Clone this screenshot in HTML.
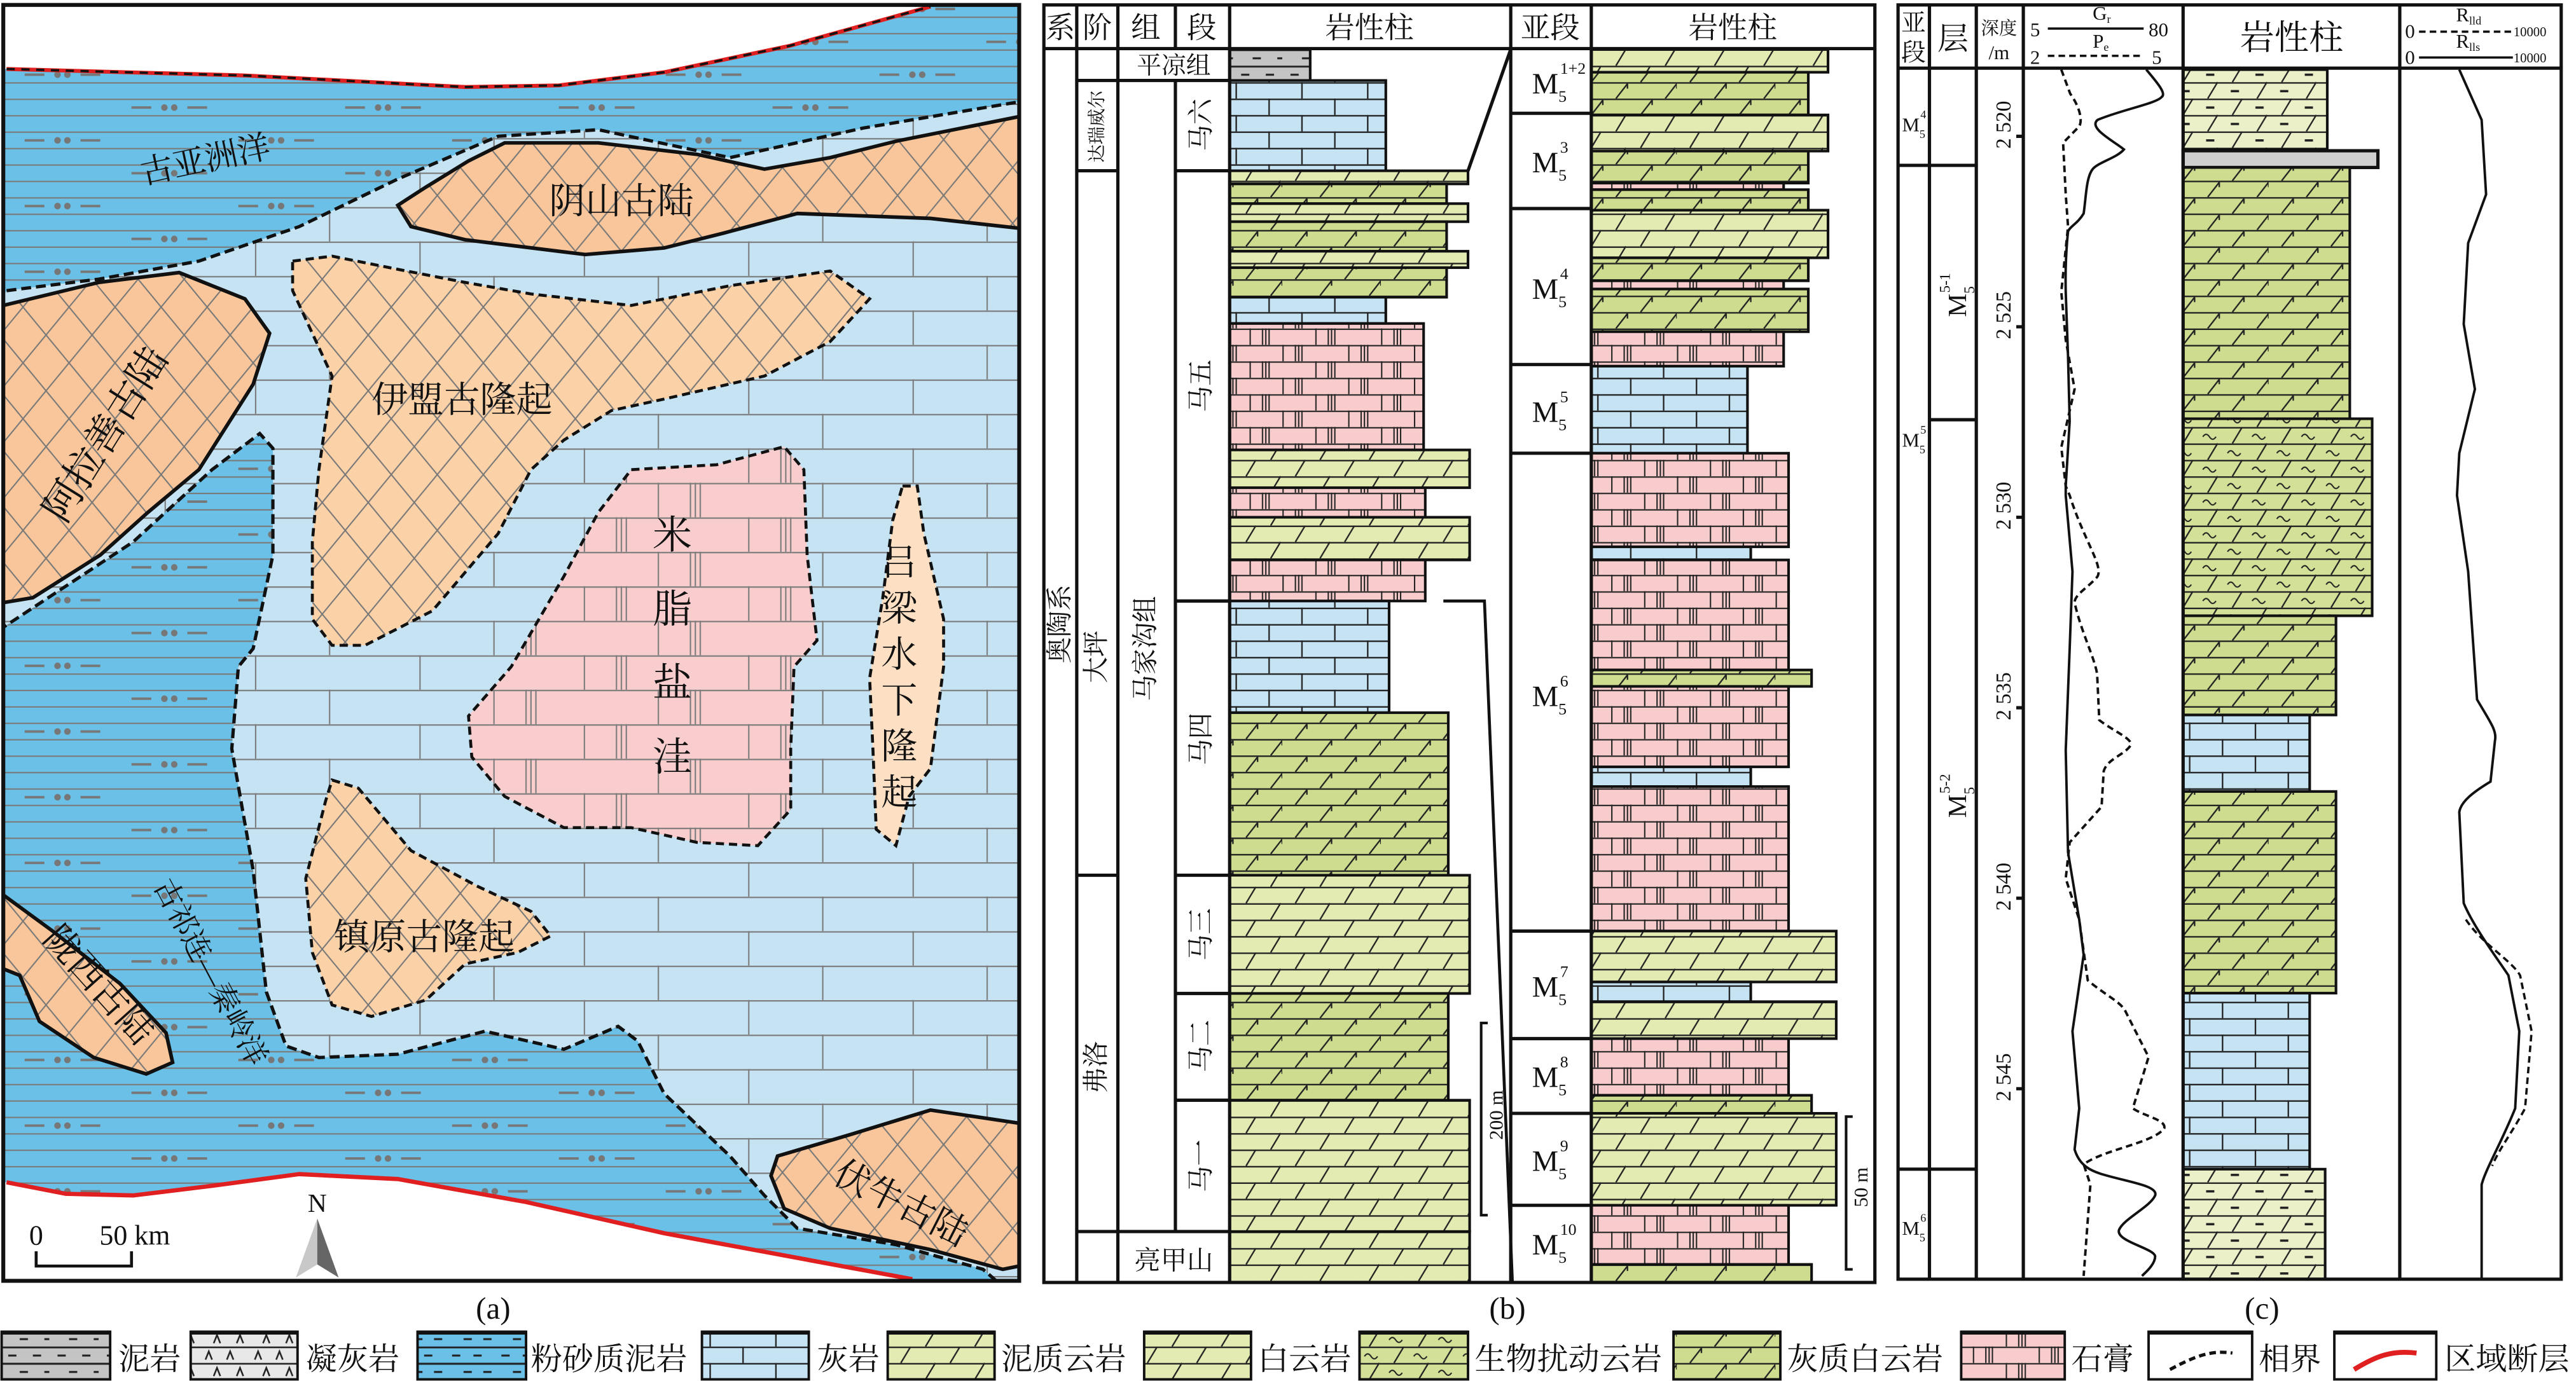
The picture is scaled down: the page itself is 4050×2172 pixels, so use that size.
<!DOCTYPE html>
<html><head><meta charset="utf-8"><style>
html,body{margin:0;padding:0;background:#fff}
svg{display:block}
text{font-family:"Liberation Serif","Noto Serif CJK SC",serif;fill:#111}
</style></head><body>
<svg xmlns="http://www.w3.org/2000/svg" width="4050" height="2172" viewBox="0 0 1567 841" preserveAspectRatio="none">
<defs>
<pattern id="mapdeep" width="130" height="40" patternUnits="userSpaceOnUse">
<rect width="130" height="40" fill="#6ac0e6"/>
<path d="M0,0.5H130M0,10.5H130M0,20.5H130M0,30.5H130" stroke="#7a7a7a" stroke-width="0.8"/>
<path d="M15,5.5H27M49,5.5H61M80,25.5H92M114,25.5H126" stroke="#777" stroke-width="1.5"/>
<circle cx="35" cy="5.5" r="2" fill="#777"/><circle cx="41" cy="5.5" r="2" fill="#777"/>
<circle cx="100" cy="25.5" r="2" fill="#777"/><circle cx="106" cy="25.5" r="2" fill="#777"/>
</pattern>
<pattern id="maplight" width="100" height="42" patternUnits="userSpaceOnUse">
<rect width="100" height="42" fill="#c5e3f3"/>
<path d="M0,0.5H100M0,21.5H100M0.5,0V21M55.5,21V42" stroke="#7a7a7a" stroke-width="0.8"/>
</pattern>
<pattern id="mappink" width="100" height="42" patternUnits="userSpaceOnUse">
<rect width="100" height="42" fill="#f9cdcd"/>
<path d="M0,0.5H100M0,21.5H100M0.5,0V21M55.5,21V42M20,0V21M23,0V21M26,0V21M75,21V42M78,21V42M81,21V42" stroke="#7a7a7a" stroke-width="0.8"/>
</pattern>
<pattern id="mapcross" width="28" height="34" patternUnits="userSpaceOnUse">
<rect width="28" height="34" fill="#f8c69a"/>
<path d="M0,0L28,34M28,0L0,34" stroke="#777" stroke-width="0.8"/>
</pattern>
<pattern id="mapcross2" width="28" height="34" patternUnits="userSpaceOnUse">
<rect width="28" height="34" fill="#fbd1a8"/>
<path d="M0,0L28,34M28,0L0,34" stroke="#777" stroke-width="0.8"/>
</pattern>
<pattern id="lime" width="40" height="20" patternUnits="userSpaceOnUse">
<rect width="40" height="20" fill="#c5e3f3"/>
<path d="M0,0.5H40M0,10.5H40M12,0V10M32,10V20" stroke="#222" stroke-width="0.9"/>
</pattern>
<pattern id="dolo" width="60" height="20" patternUnits="userSpaceOnUse">
<rect width="60" height="20" fill="#e3ebb2"/>
<path d="M0,0.5H60M0,10.5H60M8,10L14,0M38,10L44,0M23,20L29,10M53,20L59,10" stroke="#222" stroke-width="0.9"/>
</pattern>
<pattern id="cdolo" width="60" height="20" patternUnits="userSpaceOnUse">
<rect width="60" height="20" fill="#cddc8e"/>
<path d="M0,0.5H60M0,10.5H60M8,10L15,1M15,1V4M38,10L45,1M45,1V4M23,20L30,11M30,11V14M53,20L60,11M60,11V14" stroke="#222" stroke-width="0.9"/>
</pattern>
<pattern id="bio" width="60" height="20" patternUnits="userSpaceOnUse">
<rect width="60" height="20" fill="#d3e097"/>
<path d="M0,0.5H60M0,10.5H60M8,10L14,0M38,10L44,0M23,20L29,10M53,20L59,10" stroke="#222" stroke-width="0.9"/>
<path d="M20,6q2,-3 4,0t4,0M50,6q2,-3 4,0t4,0M5,16q2,-3 4,0t4,0M35,16q2,-3 4,0t4,0" stroke="#222" stroke-width="0.8" fill="none"/>
</pattern>
<pattern id="mdolo" width="60" height="20" patternUnits="userSpaceOnUse">
<rect width="60" height="20" fill="#ebf0c9"/>
<path d="M0,0.5H60M0,10.5H60M8,10L14,0M38,10L44,0M23,20L29,10M53,20L59,10" stroke="#222" stroke-width="0.9"/>
<path d="M22,5.5H27M52,5.5H57M7,15.5H12M37,15.5H42" stroke="#222" stroke-width="1.4"/>
</pattern>
<pattern id="gyp" width="40" height="20" patternUnits="userSpaceOnUse">
<rect width="40" height="20" fill="#f8cccc"/>
<path d="M0,0.5H40M0,10.5H40M0.5,0V10M20.5,10V20M8,0V10M10,0V10M12,0V10M28,10V20M30,10V20M32,10V20" stroke="#222" stroke-width="0.8"/>
</pattern>
<pattern id="mud" width="30" height="20" patternUnits="userSpaceOnUse">
<rect width="30" height="20" fill="#c4c4c4"/>
<path d="M0,0.5H30M0,10.5H30M5,5.5H10M20,5.5H25M12,15.5H17M27,15.5H30" stroke="#222" stroke-width="1.2"/>
</pattern>
<pattern id="tuff" width="30" height="20" patternUnits="userSpaceOnUse">
<rect width="30" height="20" fill="#e8e8e8"/>
<path d="M0,0.5H30M0,10.5H30M5,8L7,3L9,8M18,8L20,3L22,8M10,18L12,13L14,18M24,18L26,13L28,18" stroke="#222" stroke-width="1" fill="none"/>
</pattern>
<pattern id="sdeep" width="30" height="20" patternUnits="userSpaceOnUse">
<rect width="30" height="20" fill="#6ac0e6"/>
<path d="M0,0.5H30M0,10.5H30M5,5.5H10M18,5.5H23M12,15.5H17M24,15.5H29" stroke="#222" stroke-width="1.2"/>
</pattern>
</defs>

<!-- ===================== MAP (a) ===================== -->
<g>
<rect x="2" y="3" width="618" height="777" fill="url(#mapdeep)"/>
<path d="M2,180 L4,177 L60,170 L121,159 L182,138 L242,109 L303,83 L364,79 L444,96 L525,78 L620,62 L620,780 L606,780 L598,773 L545,758 L485,748 L465,728 L444,704 L404,666 L388,634 L376,625 L343,639 L295,628 L242,642 L194,644 L174,637 L162,604 L154,530 L141,456 L145,406 L154,395 L166,338 L166,273 L158,264 L129,286 L81,330 L2,382 Z" fill="url(#maplight)"/>
<path d="M4,177 L60,170 L121,159 L182,138 L242,109 L303,83 L364,79 L444,96 L525,78 L620,62" fill="none" stroke="#111" stroke-width="2" stroke-dasharray="6,3"/>
<path d="M606,780 L598,773 L545,758 L485,748 L465,728 L444,704 L404,666 L388,634 L376,625 L343,639 L295,628 L242,642 L194,644 L174,637 L162,604 L154,530 L141,456 L145,406 L154,395 L166,338 L166,273 L158,264 L129,286 L81,330 L2,382" fill="none" stroke="#111" stroke-width="2" stroke-dasharray="6,3"/>
<!-- white top -->
<path d="M2,3 L620,3 L620,4 L566,4 L480,28 L404,44 L340,52 L283,53 L150,46 L4,42 L2,42 Z" fill="#fff"/>
<path d="M4,42 L150,46 L283,53 L340,52 L404,44 L480,28 L566,4" fill="none" stroke="#e02020" stroke-width="2.4"/>
<path d="M4,42 L150,46 L283,53 L340,52 L404,44 L480,28 L566,4" fill="none" stroke="#111" stroke-width="1.4" stroke-dasharray="5,4"/>
<!-- white bottom -->
<path d="M2,720 L4,720 L40,727 L81,728 L130,722 L182,715 L242,718 L320,732 L404,751 L555,779 L555,780 L2,780 Z" fill="#fff"/>
<path d="M4,720 L40,727 L81,728 L130,722 L182,715 L242,718 L320,732 L404,751 L555,779" fill="none" stroke="#e02020" stroke-width="2.6"/>
<!-- 阴山 -->
<path d="M242,125 L259,114 L285,98 L307,87 L364,87 L424,94 L465,103 L505,96 L545,86 L620,71 L620,139 L566,133 L485,130 L440,142 L404,151 L356,155 L283,146 L250,138 Z" fill="url(#mapcross)" stroke="#111" stroke-width="2.2"/>
<!-- 阿拉善 -->
<path d="M2,186 L60,172 L109,166 L149,182 L164,203 L154,234 L121,286 L90,312 L61,338 L20,364 L2,367 Z" fill="url(#mapcross)" stroke="#111" stroke-width="2.2"/>
<!-- 伊盟 -->
<path d="M178,159 L202,156 L242,164 L283,172 L323,179 L384,186 L444,174 L505,165 L529,182 L505,208 L465,229 L404,243 L372,250 L343,268 L323,286 L303,325 L263,372 L222,393 L202,393 L190,377 L190,330 L194,286 L202,229 L178,177 Z" fill="url(#mapcross2)" stroke="#111" stroke-width="1.8" stroke-dasharray="5,3"/>
<!-- 镇原 -->
<path d="M202,475 L218,480 L250,518 L291,540 L323,555 L335,570 L315,580 L283,587 L259,609 L226,619 L202,612 L190,580 L186,535 L198,488 Z" fill="url(#mapcross2)" stroke="#111" stroke-width="1.8" stroke-dasharray="5,3"/>
<!-- 米脂 -->
<path d="M384,286 L436,283 L477,272 L489,286 L491,338 L497,390 L483,406 L481,456 L481,493 L461,515 L424,513 L384,504 L343,504 L307,485 L287,461 L285,436 L311,406 L343,351 L364,312 Z" fill="url(#mappink)" stroke="#111" stroke-width="1.8" stroke-dasharray="5,3"/>
<!-- 吕梁 -->
<path d="M549,296 L558,296 L562,325 L574,377 L574,406 L566,468 L553,485 L545,515 L533,505 L531,456 L529,413 L537,364 L543,317 Z" fill="#fde0c3" stroke="#111" stroke-width="1.8" stroke-dasharray="5,3"/>
<!-- 陇西 -->
<path d="M2,545 L32,567 L73,599 L101,629 L105,647 L89,654 L57,644 L24,622 L12,594 L2,590 Z" fill="url(#mapcross)" stroke="#111" stroke-width="2.2"/>
<!-- 伏牛 -->
<path d="M473,704 L517,691 L566,676 L620,684 L620,771 L610,773 L566,761 L505,748 L477,736 L469,716 Z" fill="url(#mapcross)" stroke="#111" stroke-width="2.2"/>
<rect x="2" y="3" width="618" height="777" fill="none" stroke="#111" stroke-width="2.4"/>
<!-- labels -->
<text x="125" y="104" font-size="20" text-anchor="middle" transform="rotate(-12 125 98)">古亚洲洋</text>
<text x="378" y="130" font-size="22" text-anchor="middle">阴山古陆</text>
<text x="65" y="272" font-size="24" text-anchor="middle" transform="rotate(-58 65 265)">阿拉善古陆</text>
<text x="281" y="251" font-size="22" text-anchor="middle">伊盟古隆起</text>
<g font-size="24" text-anchor="middle"><text x="409" y="334">米</text><text x="409" y="379">脂</text><text x="409" y="424">盐</text><text x="409" y="469">洼</text></g>
<g font-size="22" text-anchor="middle"><text x="547" y="350">吕</text><text x="547" y="378">梁</text><text x="547" y="406">水</text><text x="547" y="434">下</text><text x="547" y="462">隆</text><text x="547" y="490">起</text></g>
<text x="258" y="578" font-size="22" text-anchor="middle">镇原古隆起</text>
<text x="60" y="607" font-size="22" text-anchor="middle" transform="rotate(48 60 600)">陇西古陆</text>
<text x="128" y="598" font-size="18" text-anchor="middle" transform="rotate(62 128 592)">古祁连—秦岭洋</text>
<text x="548" y="740" font-size="22" text-anchor="middle" transform="rotate(27 548 733)">伏牛古陆</text>
<text x="22" y="758" font-size="17" text-anchor="middle">0</text>
<text x="82" y="758" font-size="17" text-anchor="middle">50 km</text>
<path d="M22,762V771H80V762" fill="none" stroke="#111" stroke-width="1.8"/>
<text x="193" y="738" font-size="16" text-anchor="middle">N</text>
<path d="M193,742 L180,778 L193,770 Z" fill="#c8c8c8"/>
<path d="M193,742 L206,778 L193,770 Z" fill="#666"/>
<text x="300" y="803" font-size="19" text-anchor="middle">(a)</text>
</g>

<!-- ===================== (b) ===================== -->
<g>
<!-- left lithology -->
<g stroke="#111" stroke-width="1.6">
<rect x="748" y="30" width="49" height="19" fill="url(#mud)"/>
<rect x="748" y="49" width="95" height="55" fill="url(#lime)"/>
<rect x="748" y="104" width="145" height="8" fill="url(#dolo)"/>
<rect x="748" y="112" width="132" height="12" fill="url(#cdolo)"/>
<rect x="748" y="124" width="145" height="11" fill="url(#dolo)"/>
<rect x="748" y="135" width="132" height="18" fill="url(#cdolo)"/>
<rect x="748" y="153" width="145" height="10" fill="url(#dolo)"/>
<rect x="748" y="163" width="132" height="18" fill="url(#cdolo)"/>
<rect x="748" y="181" width="95" height="16" fill="url(#lime)"/>
<rect x="748" y="197" width="118" height="77" fill="url(#gyp)"/>
<rect x="748" y="274" width="146" height="23" fill="url(#dolo)"/>
<rect x="748" y="297" width="119" height="18" fill="url(#gyp)"/>
<rect x="748" y="315" width="146" height="26" fill="url(#dolo)"/>
<rect x="748" y="341" width="119" height="25" fill="url(#gyp)"/>
<rect x="748" y="366" width="97" height="68" fill="url(#lime)"/>
<rect x="748" y="434" width="133" height="99" fill="url(#cdolo)"/>
<rect x="748" y="533" width="146" height="72" fill="url(#dolo)"/>
<rect x="748" y="605" width="133" height="65" fill="url(#cdolo)"/>
<rect x="748" y="670" width="146" height="80" fill="url(#dolo)"/>
<rect x="748" y="750" width="146" height="31" fill="url(#dolo)"/>
</g>
<!-- right lithology -->
<g stroke="#111" stroke-width="1.6">
<rect x="968" y="30" width="144" height="14" fill="url(#dolo)"/>
<rect x="968" y="44" width="132" height="26" fill="url(#cdolo)"/>
<rect x="968" y="70" width="144" height="22" fill="url(#dolo)"/>
<rect x="968" y="92" width="132" height="19.5" fill="url(#cdolo)"/>
<rect x="968" y="111.5" width="117" height="4" fill="url(#gyp)"/>
<rect x="968" y="115.5" width="132" height="12.5" fill="url(#cdolo)"/>
<rect x="968" y="128" width="144" height="29" fill="url(#dolo)"/>
<rect x="968" y="157" width="132" height="14" fill="url(#cdolo)"/>
<rect x="968" y="171" width="117" height="5" fill="url(#gyp)"/>
<rect x="968" y="176" width="132" height="26" fill="url(#cdolo)"/>
<rect x="968" y="202" width="117" height="21" fill="url(#gyp)"/>
<rect x="968" y="223" width="95" height="53" fill="url(#lime)"/>
<rect x="968" y="276" width="120" height="57" fill="url(#gyp)"/>
<rect x="968" y="333" width="97" height="8" fill="url(#lime)"/>
<rect x="968" y="341" width="120" height="67" fill="url(#gyp)"/>
<rect x="968" y="408" width="134" height="10" fill="url(#cdolo)"/>
<rect x="968" y="418" width="120" height="49" fill="url(#gyp)"/>
<rect x="968" y="467" width="97" height="12" fill="url(#lime)"/>
<rect x="968" y="479" width="120" height="88" fill="url(#gyp)"/>
<rect x="968" y="567" width="149" height="31" fill="url(#dolo)"/>
<rect x="968" y="598" width="97" height="12" fill="url(#lime)"/>
<rect x="968" y="610" width="149" height="22.5" fill="url(#dolo)"/>
<rect x="968" y="632.5" width="120" height="34.5" fill="url(#gyp)"/>
<rect x="968" y="667" width="134" height="11" fill="url(#cdolo)"/>
<rect x="968" y="678" width="149" height="56" fill="url(#dolo)"/>
<rect x="968" y="734" width="120" height="36" fill="url(#gyp)"/>
<rect x="968" y="770" width="134" height="11" fill="url(#cdolo)"/>
</g>
<!-- grid -->
<g stroke="#111" stroke-width="2" fill="none">
<rect x="635" y="3" width="505.5" height="778"/>
<path d="M635,29.6H1140.5"/>
<path d="M655,3V781M680,3V781M748,3V781M919,3V781M968,3V781"/>
<path d="M715,3V29.6M715,49V750"/>
<path d="M655,49H748M655,104H680M655,533H680M655,750H748"/>
<path d="M715,104H748M715,366H748M715,533H748M715,605H748M715,670H748"/>
<path d="M919,69H968M919,127H968M919,222H968M919,276H968M919,567H968M919,632.5H968M919,678H968M919,734H968"/>
</g>
<path d="M893,104L919,30" stroke="#111" stroke-width="2" fill="none"/>
<path d="M878,366H903L920,781" stroke="#111" stroke-width="1.8" fill="none"/>
<path d="M905,623H901V740H905" stroke="#111" stroke-width="1.6" fill="none"/>
<text x="913" y="686" font-size="12" text-anchor="middle" transform="rotate(-90 910 682)">200 m</text>
<path d="M1127,680H1123V773H1127" stroke="#111" stroke-width="1.6" fill="none"/>
<text x="1135" y="730" font-size="12" text-anchor="middle" transform="rotate(-90 1132 726)">50 m</text>
<!-- header texts -->
<g font-size="18" text-anchor="middle">
<text x="645" y="23">系</text><text x="667.5" y="23">阶</text><text x="697" y="23">组</text><text x="731" y="23">段</text>
<text x="833" y="23">岩性柱</text><text x="943" y="23">亚段</text><text x="1054" y="23">岩性柱</text>
</g>
<text x="714" y="45" font-size="15" text-anchor="middle">平凉组</text>
<text x="714" y="773" font-size="16" text-anchor="middle">亮甲山</text>
<g font-size="16" text-anchor="middle">
<text x="667" y="81" font-size="11" transform="rotate(-90 667 77)">达瑞威尔</text>
<text x="731" y="81" transform="rotate(-90 731 76)">马六</text>
<text x="731" y="240" transform="rotate(-90 731 235)">马五</text>
<text x="731" y="455" transform="rotate(-90 731 450)">马四</text>
<text x="731" y="574" transform="rotate(-90 731 569)">马三</text>
<text x="731" y="642" transform="rotate(-90 731 637)">马二</text>
<text x="731" y="715" transform="rotate(-90 731 710)">马一</text>
<text x="667" y="405" transform="rotate(-90 667 400)">大坪</text>
<text x="667" y="655" transform="rotate(-90 667 650)">弗洛</text>
<text x="697" y="400" transform="rotate(-90 697 395)">马家沟组</text>
<text x="645" y="385" transform="rotate(-90 645 380)">奥陶系</text>
</g>
<g font-size="18">
<text x="932" y="57">M<tspan dy="5" font-size="10">5</tspan><tspan dx="-4" dy="-17" font-size="10">1+2</tspan></text>
<text x="932" y="105">M<tspan dy="5" font-size="10">5</tspan><tspan dx="-4" dy="-17" font-size="10">3</tspan></text>
<text x="932" y="182">M<tspan dy="5" font-size="10">5</tspan><tspan dx="-4" dy="-17" font-size="10">4</tspan></text>
<text x="932" y="257">M<tspan dy="5" font-size="10">5</tspan><tspan dx="-4" dy="-17" font-size="10">5</tspan></text>
<text x="932" y="430">M<tspan dy="5" font-size="10">5</tspan><tspan dx="-4" dy="-17" font-size="10">6</tspan></text>
<text x="932" y="607">M<tspan dy="5" font-size="10">5</tspan><tspan dx="-4" dy="-17" font-size="10">7</tspan></text>
<text x="932" y="662">M<tspan dy="5" font-size="10">5</tspan><tspan dx="-4" dy="-17" font-size="10">8</tspan></text>
<text x="932" y="713">M<tspan dy="5" font-size="10">5</tspan><tspan dx="-4" dy="-17" font-size="10">9</tspan></text>
<text x="932" y="764">M<tspan dy="5" font-size="10">5</tspan><tspan dx="-4" dy="-17" font-size="10">10</tspan></text>
</g>
<text x="917" y="803" font-size="19" text-anchor="middle">(b)</text>
</g>

<!-- ===================== (c) ===================== -->
<g>
<g stroke="#111" stroke-width="1.6">
<rect x="1328" y="42.4" width="87.7" height="48.4" fill="url(#mdolo)"/>
<rect x="1328" y="91.8" width="118.5" height="10.2" fill="#cfcfcf" stroke-width="2"/>
<rect x="1328" y="102" width="101.4" height="153" fill="url(#cdolo)"/>
<rect x="1328" y="255" width="115" height="120" fill="url(#bio)"/>
<rect x="1328" y="375" width="93" height="60.4" fill="url(#cdolo)"/>
<rect x="1328" y="435.4" width="77" height="46.6" fill="url(#lime)"/>
<rect x="1328" y="482" width="93" height="122.8" fill="url(#cdolo)"/>
<rect x="1328" y="604.8" width="77" height="107.2" fill="url(#lime)"/>
<rect x="1328" y="712" width="86.4" height="67" fill="url(#mdolo)"/>
</g>
<g stroke="#111" stroke-width="2" fill="none">
<rect x="1154.6" y="3" width="403.4" height="776"/>
<path d="M1154.6,41.5H1558"/>
<path d="M1173.7,3V779M1202.2,3V779M1230.8,3V779M1328,3V779M1459.8,3V779"/>
<path d="M1154.6,100.7H1202.2M1173.7,255.6H1202.2M1154.6,712H1202.2"/>
<path d="M1226.5,83H1230.8M1226.5,199H1230.8M1226.5,315H1230.8M1226.5,431H1230.8M1226.5,547H1230.8M1226.5,663H1230.8"/>
</g>
<!-- curves -->
<path d="M1305.6,42.4 C1312,50 1318,57 1315,59 C1312,63 1290,67 1276,73 C1270,78 1286,86 1292,91 C1288,96 1276,99 1273,103 C1269,108 1269,120 1267.5,130 C1264,136 1259,138 1258,141 C1256,160 1256.6,177 1256.6,178 L1258,217 L1259,256.6 L1256.6,296 L1256.6,301.7 L1260.7,348 L1259,395 L1256.6,457 L1258,519 L1264.8,560 L1267.5,581.5 L1260.7,628 L1264.8,675 L1262,700 C1265,710 1272,713 1278.4,715 C1295,720 1313,722 1311,728 C1308,735 1292,742 1289,749 C1287,756 1310,760 1311,765 C1311,770 1305,775 1303,777" fill="none" stroke="#111" stroke-width="1.5"/>
<path d="M1253.9,42.4 L1259.3,57 C1265,65 1267,73 1264.8,77 L1255,87 L1256.6,118.4 L1258,138 L1253.9,177.7 L1256.6,207 L1262,237 L1253.9,272.4 L1256.6,296 L1259,301.7 C1268,330 1280,345 1275.7,351.4 C1270,358 1262,362 1262,367 C1266,385 1274,400 1275.7,410.5 L1277,438.5 C1285,445 1298,450 1296,454 C1292,460 1282,462 1279.7,469.6 L1278.4,491.3 L1259,513 L1256.6,535 L1264.8,560 L1270,597 C1282,607 1290,610 1293,616 L1307,643.7 L1297.4,675 C1305,680 1318,682 1316.5,687.2 C1310,696 1280,700 1267.5,709 L1271.6,721.4 L1267.5,777" fill="none" stroke="#111" stroke-width="1.5" stroke-dasharray="4,2.5"/>
<path d="M1496,42.4 L1509.6,73 L1512.3,118.4 L1501.4,148 L1498.7,197.4 L1505.5,237 L1496,276 L1494.6,301.7 L1501.4,348 L1506.8,426 C1515,440 1519,445 1517.7,451 L1515,476 C1505,482 1497,488 1496,494.5 L1498.7,550 C1505,565 1520,585 1525.9,594 L1532.5,628 L1530,675 C1522,695 1512,712 1509.6,721.4 L1509.6,779" fill="none" stroke="#111" stroke-width="1.5"/>
<path d="M1500,560 C1510,575 1528,585 1533,594 L1540,628 L1536,675 C1528,690 1520,700 1516,710" fill="none" stroke="#111" stroke-width="1.4" stroke-dasharray="4,2.5"/>
<!-- header -->
<g text-anchor="middle">
<text x="1164" y="19" font-size="15">亚</text><text x="1164" y="37" font-size="15">段</text>
<text x="1188" y="30" font-size="19">层</text>
<text x="1216" y="21" font-size="11">深度</text><text x="1216" y="36" font-size="12">/m</text>
<text x="1394" y="30" font-size="21">岩性柱</text>
</g>
<g font-size="12">
<text x="1235" y="22">5</text><text x="1307" y="22">80</text>
<text x="1273" y="12">G<tspan font-size="7" dy="2">r</tspan></text>
<text x="1235" y="39">2</text><text x="1309" y="39">5</text>
<text x="1273" y="29">P<tspan font-size="7" dy="2">e</tspan></text>
<text x="1463" y="23">0</text><text x="1529" y="22" font-size="8">10000</text>
<text x="1494" y="13">R<tspan font-size="7" dy="2">lld</tspan></text>
<text x="1463" y="39">0</text><text x="1529" y="38" font-size="8">10000</text>
<text x="1494" y="29">R<tspan font-size="7" dy="2">lls</tspan></text>
</g>
<path d="M1245.7,17.4H1304" stroke="#111" stroke-width="1.4"/>
<path d="M1245.7,34H1304" stroke="#111" stroke-width="1.4" stroke-dasharray="4,2.5"/>
<path d="M1471.5,19.3H1528.6" stroke="#111" stroke-width="1.4" stroke-dasharray="4,2.5"/>
<path d="M1471.5,35H1528.6" stroke="#111" stroke-width="1.4"/>
<g font-size="13" text-anchor="middle">
<text x="1218" y="81" transform="rotate(-90 1218 76)">2 520</text>
<text x="1218" y="197" transform="rotate(-90 1218 192)">2 525</text>
<text x="1218" y="313" transform="rotate(-90 1218 308)">2 530</text>
<text x="1218" y="429" transform="rotate(-90 1218 424)">2 535</text>
<text x="1218" y="545" transform="rotate(-90 1218 540)">2 540</text>
<text x="1218" y="661" transform="rotate(-90 1218 656)">2 545</text>
</g>
<g font-size="12">
<text x="1157" y="80">M<tspan dy="4" font-size="7">5</tspan><tspan dx="-3" dy="-12" font-size="7">4</tspan></text>
<text x="1157" y="272">M<tspan dy="4" font-size="7">5</tspan><tspan dx="-3" dy="-12" font-size="7">5</tspan></text>
<text x="1157" y="752">M<tspan dy="4" font-size="7">5</tspan><tspan dx="-3" dy="-12" font-size="7">6</tspan></text>
</g>
<g font-size="16">
<text x="1180" y="193" transform="rotate(-90 1188 185)">M<tspan dy="5" font-size="9">5</tspan><tspan dx="-4" dy="-15" font-size="9">5-1</tspan></text>
<text x="1180" y="498" transform="rotate(-90 1188 490)">M<tspan dy="5" font-size="9">5</tspan><tspan dx="-4" dy="-15" font-size="9">5-2</tspan></text>
</g>
<text x="1376" y="803" font-size="19" text-anchor="middle">(c)</text>
</g>

<!-- ===================== Legend ===================== -->
<g>
<g stroke="#111" stroke-width="1.5">
<rect x="1" y="811" width="66" height="29" fill="url(#mud)"/>
<rect x="116" y="811" width="65" height="29" fill="url(#tuff)"/>
<rect x="254" y="811" width="66" height="29" fill="url(#sdeep)"/>
<rect x="427" y="811" width="65" height="29" fill="url(#lime)"/>
<rect x="540" y="811" width="65" height="29" fill="url(#dolo)"/>
<rect x="696" y="811" width="65" height="29" fill="url(#dolo)"/>
<rect x="827" y="811" width="66" height="29" fill="url(#bio)"/>
<rect x="1018" y="811" width="65" height="29" fill="url(#cdolo)"/>
<rect x="1193" y="811" width="63" height="29" fill="url(#gyp)"/>
<rect x="1307" y="811" width="63" height="29" fill="#fff"/>
<rect x="1420" y="811" width="62" height="29" fill="#fff"/>
</g>
<g stroke="#111" stroke-width="2.5">
<path d="M1,811.5H67M116,811.5H181M254,811.5H320M427,811.5H492M540,811.5H605M696,811.5H761M827,811.5H893M1018,811.5H1083M1193,811.5H1256M1307,811.5H1370M1420,811.5H1482"/>
</g>
<path d="M1320,834 C1335,826 1345,822 1358,824" stroke="#111" stroke-width="2" stroke-dasharray="4,2.5" fill="none"/>
<path d="M1432,834 C1445,826 1455,822 1470,824" stroke="#e02020" stroke-width="3" fill="none"/>
<g font-size="19">
<text x="72" y="834">泥岩</text>
<text x="186" y="834">凝灰岩</text>
<text x="323" y="834">粉砂质泥岩</text>
<text x="497" y="834">灰岩</text>
<text x="609" y="834">泥质云岩</text>
<text x="765" y="834">白云岩</text>
<text x="897" y="834">生物扰动云岩</text>
<text x="1087" y="834">灰质白云岩</text>
<text x="1260" y="834">石膏</text>
<text x="1374" y="834">相界</text>
<text x="1487" y="834">区域断层</text>
</g>
</g>
</svg>
</body></html>
